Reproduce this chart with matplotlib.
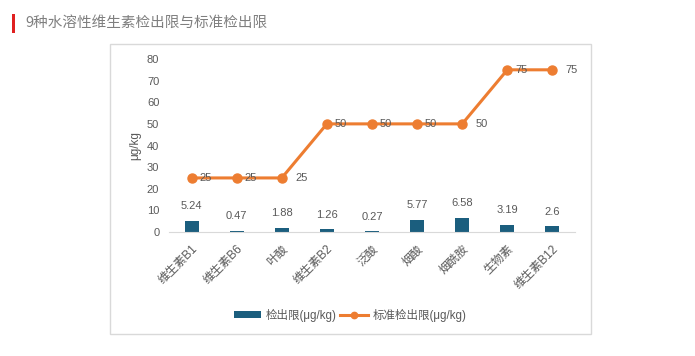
import matplotlib
matplotlib.use("Agg")
import matplotlib.pyplot as plt
from matplotlib.patches import Rectangle

plt.rcParams['font.family'] = ['Liberation Sans', 'Noto Sans CJK SC', 'DejaVu Sans']

categories = ["维生素B1", "维生素B6", "叶酸", "维生素B2", "泛酸", "烟酸", "烟酰胺", "生物素", "维生素B12"]
detect_limit = [5.24, 0.47, 1.88, 1.26, 0.27, 5.77, 6.58, 3.19, 2.6]
standard_limit = [25, 25, 25, 50, 50, 50, 50, 75, 75]
yticks = [0, 10, 20, 30, 40, 50, 60, 70, 80]
title = "9种水溶性维生素检出限与标准检出限"
bar_label = "检出限(μg/kg)"
line_label = "标准检出限(μg/kg)"
ylabel = "μg/kg"

W, H = 695, 356
fig = plt.figure(figsize=(W / 100, H / 100), dpi=100)
fig.patch.set_facecolor("white")

# title with red bar
fig.patches.append(Rectangle((12 / W, 1 - 33 / H), 3 / W, 19 / H, transform=fig.transFigure,
                             facecolor="#E02020", edgecolor="none"))
fig.text(25 / W, 1 - 23 / H, title, fontsize=10.5, color="#7F7F7F", va="center", ha="left",
         family=['Noto Sans CJK SC', 'DejaVu Sans'])

# chart box
fig.patches.append(Rectangle((110 / W, 1 - 334 / H), 481 / W, 290 / H, transform=fig.transFigure,
                             facecolor="none", edgecolor="#D9D9D9", linewidth=1))

ax = fig.add_axes([169 / W, 1 - 232 / H, 406 / W, 173 / H])
x = list(range(len(categories)))
bar_color = "#1B5E7E"
line_color = "#ED7D31"
text_color = "#595959"
fs = 8

bars = ax.bar(x, detect_limit, width=0.31, color=bar_color, label=bar_label, zorder=2)
ln, = ax.plot(x, standard_limit, color=line_color, linewidth=2.2, marker="o", markersize=6.5,
              label=line_label, zorder=3)

for xi, v in zip(x, detect_limit):
    ax.annotate(f"{v:g}", (xi, v), xytext=(0, 7), textcoords="offset points",
                ha="center", va="bottom", fontsize=fs, color=text_color)
n = len(standard_limit)
for i, (xi, v) in enumerate(zip(x, standard_limit)):
    end = (i == n - 1) or (standard_limit[i + 1] != v)
    off = 9.5 if end else 5.5
    ax.annotate(f"{v:g}", (xi, v), xytext=(off, 0), textcoords="offset points",
                ha="left", va="center", fontsize=fs, color=text_color, zorder=4)

ax.set_xlim(-0.5, n - 0.5)
ax.set_ylim(0, 80)
ax.set_yticks(yticks)
ax.set_xticks(x)
ax.set_xticklabels(categories, rotation=45, ha="right", rotation_mode="anchor",
                   fontsize=8.5, color=text_color)
ax.tick_params(axis="y", labelsize=fs, labelcolor=text_color, length=0, pad=7)
ax.tick_params(axis="x", length=0, pad=8)
for s in ["top", "right", "left"]:
    ax.spines[s].set_visible(False)
ax.spines["bottom"].set_color("#D9D9D9")
ax.set_facecolor("none")
ax.set_ylabel(ylabel, fontsize=8.5, color=text_color, labelpad=4)

fig.legend(handles=[bars, ln], labels=[bar_label, line_label], loc="center",
           bbox_to_anchor=(350 / W, 1 - 315 / H), ncol=2, frameon=False, fontsize=8.3,
           labelcolor=text_color, handlelength=2.4, handleheight=0.5, columnspacing=0.3,
           handletextpad=0.4, markerscale=0.7)

fig.savefig("out.png", dpi=100)
